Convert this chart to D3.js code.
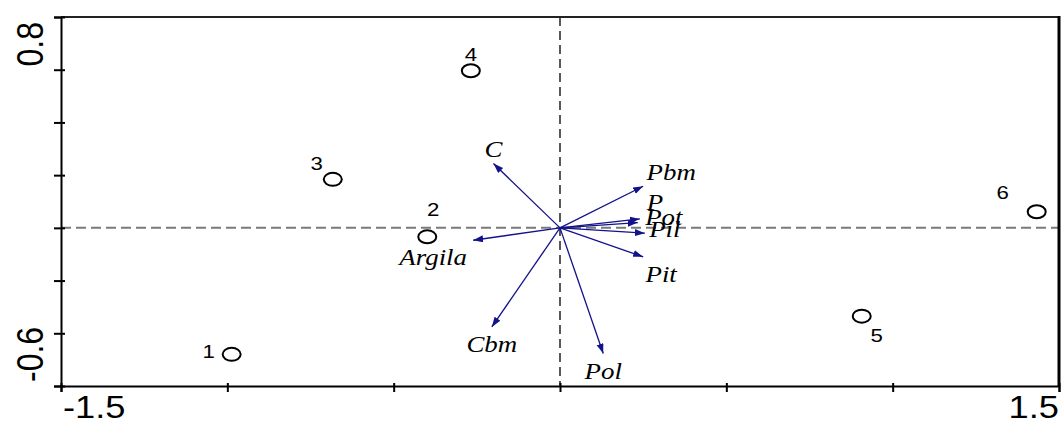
<!DOCTYPE html>
<html lang="en">
	<head>
		<meta charset="utf-8">
		<title>Biplot</title>
		<script type="text/javascript" src="https://cdn.jsdelivr.net/npm/d3@7"></script>
		<style type="text/css">
			body { margin: 0; background: white; }
		</style>
	</head>
	<body>
		<script type="text/javascript">

			//Sites (sample scores)
			var siteNames = ["1", "2", "3", "4", "5", "6"];
			var siteX = [-0.987, -0.399, -0.683, -0.268, 0.907, 1.433];
			var siteY = [-0.480, -0.034, 0.184, 0.596, -0.335, 0.061];

			//Variables (arrow tips)
			var varNames = ["C", "Pbm", "P", "Pot", "Pil", "Pit", "Argila", "Cbm", "Pol"];
			var varX = [-0.200, 0.250, 0.240, 0.234, 0.255, 0.250, -0.261, -0.205, 0.130];
			var varY = [0.244, 0.158, 0.034, 0.020, -0.020, -0.110, -0.047, -0.376, -0.477];

			//Axis ranges and tick values
			var xDomain = [-1.5, 1.5];
			var yDomain = [-0.6, 0.8];
			var xTicks = [-1.5, -1, -0.5, 0, 0.5, 1, 1.5];
			var yTicks = [-0.6, -0.4, -0.2, 0, 0.2, 0.4, 0.6, 0.8];
			var xTickLabels = ["-1.5", "1.5"];
			var yTickLabels = ["-0.6", "0.8"];

			//label offsets in pixels (layout only)
			var siteLabelOffset = [[-23, -3], [6, -28], [-16, -16], [0, -17], [15, 19], [-34, -20]];
			var varLabelOffset = [[0, -15], [28, -14], [15, -17], [26, -6], [20, -4], [18, 17], [-40, 17], [0, 17], [0, 17]];

			//Width and height
			var w = 1061;
			var h = 423;
			var stretch = 1.17;
			var arrowColor = "#12128a";

			var x = d3.scaleLinear().domain(xDomain).range([61, 1059]);
			var y = d3.scaleLinear().domain(yDomain).range([386, 17]);

			var svg = d3.select("body")
						.append("svg")
						.attr("width", w)
						.attr("height", h)
						.style("display", "block");

			svg.append("rect")
			   .attr("width", w)
			   .attr("height", h)
			   .attr("fill", "white");

			//arrow head
			svg.append("defs")
			   .append("marker")
			   .attr("id", "head")
			   .attr("markerUnits", "userSpaceOnUse")
			   .attr("markerWidth", 11)
			   .attr("markerHeight", 8)
			   .attr("refX", 10)
			   .attr("refY", 3.5)
			   .attr("orient", "auto")
			   .append("path")
			   .attr("d", "M0,0 L10,3.5 L0,7 Z")
			   .attr("fill", arrowColor);

			//zero lines
			svg.append("line")
			   .attr("x1", x(xDomain[0]))
			   .attr("x2", x(xDomain[1]))
			   .attr("y1", y(0))
			   .attr("y2", y(0))
			   .attr("stroke", "#7a7a7a")
			   .attr("stroke-width", 2)
			   .attr("stroke-dasharray", "10,5");

			svg.append("line")
			   .attr("x1", x(0))
			   .attr("x2", x(0))
			   .attr("y1", y(yDomain[1]))
			   .attr("y2", y(yDomain[0]))
			   .attr("stroke", "black")
			   .attr("stroke-width", 1.3)
			   .attr("stroke-dasharray", "9,5");

			//frame: top and right
			svg.append("line")
			   .attr("x1", x(xDomain[0]))
			   .attr("x2", x(xDomain[1]))
			   .attr("y1", y(yDomain[1]))
			   .attr("y2", y(yDomain[1]))
			   .attr("stroke", "#222")
			   .attr("stroke-width", 2);

			svg.append("line")
			   .attr("x1", x(xDomain[1]))
			   .attr("x2", x(xDomain[1]))
			   .attr("y1", y(yDomain[1]) - 1)
			   .attr("y2", y(yDomain[0]))
			   .attr("stroke", "black")
			   .attr("stroke-width", 3);

			//axes
			var xAxis = d3.axisBottom(x).tickValues(xTicks).tickSize(6).tickFormat("");
			var yAxis = d3.axisLeft(y).tickValues(yTicks).tickSize(7).tickFormat("");

			var gx = svg.append("g")
						.attr("transform", "translate(0," + y(yDomain[0]) + ")")
						.call(xAxis);
			var gy = svg.append("g")
						.attr("transform", "translate(" + x(xDomain[0]) + ",0)")
						.call(yAxis);

			[gx, gy].forEach(function(g) {
				g.select(".domain")
				 .attr("stroke", "black")
				 .attr("stroke-width", 2);
				g.selectAll(".tick line")
				 .attr("stroke", "black")
				 .attr("stroke-width", 2);
			});
			gx.selectAll(".tick line").attr("y1", -3);
			gy.selectAll(".tick line").attr("x1", 4);

			//tick labels
			svg.selectAll(".xlab")
			   .data(xTickLabels)
			   .enter()
			   .append("text")
			   .attr("class", "xlab")
			   .attr("transform", function(d, i) {
				   var px = i == 0 ? x(xDomain[0]) + 2 : x(xDomain[1]);
				   return "translate(" + px + ",418) scale(" + stretch + ",1)";
			   })
			   .attr("text-anchor", function(d, i) { return i == 0 ? "start" : "end"; })
			   .attr("font-family", "Liberation Sans, Arial, sans-serif")
			   .attr("font-size", 31)
			   .text(function(d) { return d; });

			svg.selectAll(".ylab")
			   .data(yTickLabels)
			   .enter()
			   .append("text")
			   .attr("class", "ylab")
			   .attr("transform", function(d, i) {
				   var py = i == 0 ? y(yDomain[0]) - 4 : y(yDomain[1]) + 5;
				   return "translate(43," + py + ") scale(" + stretch + ",1) rotate(-90)";
			   })
			   .attr("text-anchor", function(d, i) { return i == 0 ? "start" : "end"; })
			   .attr("font-family", "Liberation Sans, Arial, sans-serif")
			   .attr("font-size", 32)
			   .text(function(d) { return d; });

			//arrows
			svg.selectAll(".arrow")
			   .data(varNames)
			   .enter()
			   .append("line")
			   .attr("class", "arrow")
			   .attr("x1", x(0))
			   .attr("y1", y(0))
			   .attr("x2", function(d, i) { return x(varX[i]); })
			   .attr("y2", function(d, i) { return y(varY[i]); })
			   .attr("stroke", arrowColor)
			   .attr("stroke-width", 1.3)
			   .attr("marker-end", "url(#head)");

			svg.selectAll(".varLabel")
			   .data(varNames)
			   .enter()
			   .append("text")
			   .attr("class", "varLabel")
			   .attr("transform", function(d, i) {
				   var px = x(varX[i]) + varLabelOffset[i][0];
				   var py = y(varY[i]) + varLabelOffset[i][1];
				   return "translate(" + px + "," + py + ") scale(1.12,1)";
			   })
			   .attr("text-anchor", "middle")
			   .attr("dominant-baseline", "central")
			   .attr("font-family", "Liberation Serif, Times New Roman, serif")
			   .attr("font-style", "italic")
			   .attr("font-size", 24)
			   .attr("fill", "black")
			   .text(function(d) { return d; });

			//sites
			svg.selectAll(".site")
			   .data(siteNames)
			   .enter()
			   .append("ellipse")
			   .attr("class", "site")
			   .attr("cx", function(d, i) { return x(siteX[i]); })
			   .attr("cy", function(d, i) { return y(siteY[i]); })
			   .attr("rx", 9)
			   .attr("ry", 6.5)
			   .attr("fill", "none")
			   .attr("stroke", "black")
			   .attr("stroke-width", 2);

			svg.selectAll(".siteLabel")
			   .data(siteNames)
			   .enter()
			   .append("text")
			   .attr("class", "siteLabel")
			   .attr("transform", function(d, i) {
				   var px = x(siteX[i]) + siteLabelOffset[i][0];
				   var py = y(siteY[i]) + siteLabelOffset[i][1];
				   return "translate(" + px + "," + py + ") scale(" + stretch + ",1)";
			   })
			   .attr("text-anchor", "middle")
			   .attr("dominant-baseline", "central")
			   .attr("font-family", "Liberation Sans, Arial, sans-serif")
			   .attr("font-size", 19)
			   .text(function(d) { return d; });

		</script>
	</body>
</html>
